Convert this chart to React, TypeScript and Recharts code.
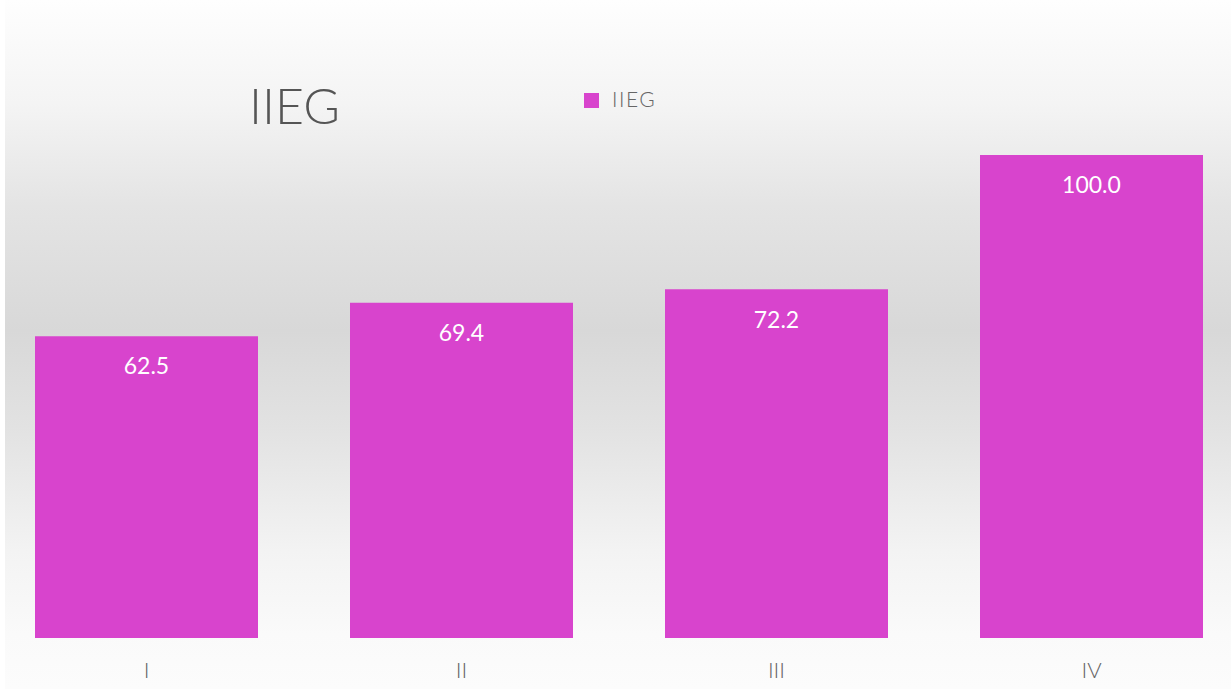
import React from 'react';
import { BarChart, Bar, XAxis, YAxis, LabelList } from 'recharts';

const categories = ['I', 'II', 'III', 'IV'];
const iiegValues = [62.5, 69.4, 72.2, 100.0];

const BAR_COLOR = '#d844cd';
const FONT = 'Lato, "Open Sans", sans-serif';

const data = categories.map((name, i) => ({ name, IIEG: iiegValues[i] }));

export default function App() {
    return (
        <div
            style={{
                position: 'absolute',
                left: 0,
                top: 0,
                width: 1231,
                height: 689,
                overflow: 'hidden',
                background: '#fff',
                fontFamily: FONT
            }}
        >
            {/* gradient panel behind the chart */}
            <div
                style={{
                    position: 'absolute',
                    left: 5,
                    top: 0,
                    width: 1226,
                    height: 689,
                    background:
                        'linear-gradient(to bottom, #fefefe 0%, #f4f4f4 15%, #e4e4e4 30%, #d8d8d8 48%, #e2e2e2 62%, #f3f3f3 80%, #fafafa 92%, #fcfcfc 100%)'
                }}
            />
            <div style={{ position: 'absolute', left: -11, top: 0 }}>
                <BarChart
                    width={1260}
                    height={689}
                    data={data}
                    margin={{ top: 155, right: 0, bottom: 0, left: 0 }}
                >
                    <XAxis
                        dataKey="name"
                        height={51}
                        axisLine={false}
                        tickLine={false}
                        tickSize={0}
                        tickMargin={24}
                        tick={{ fill: '#666', fontSize: 22, fontFamily: FONT, fontWeight: 300 }}
                    />
                    <YAxis hide domain={[0, 100]} />
                    <Bar dataKey="IIEG" fill={BAR_COLOR} barSize={223} isAnimationActive={false}>
                        <LabelList
                            dataKey="IIEG"
                            position="insideTop"
                            offset={22}
                            formatter={(v: any) => Number(v).toFixed(1)}
                            fill="#fff"
                            fontSize={23}
                            fontFamily={FONT}
                        />
                    </Bar>
                </BarChart>
            </div>
            {/* title and legend */}
            <svg
                width={1231}
                height={689}
                style={{ position: 'absolute', left: 0, top: 0, pointerEvents: 'none' }}
            >
                <text x={249} y={124} fontSize={50} fill="#555" fontFamily={FONT} fontWeight={300}>
                    IIEG
                </text>
                <rect x={584} y={93} width={15} height={15} fill={BAR_COLOR} />
                <text x={612} y={107} fontSize={21} fill="#666" fontFamily={FONT} fontWeight={300} letterSpacing={1.5}>
                    IIEG
                </text>
            </svg>
        </div>
    );
}
